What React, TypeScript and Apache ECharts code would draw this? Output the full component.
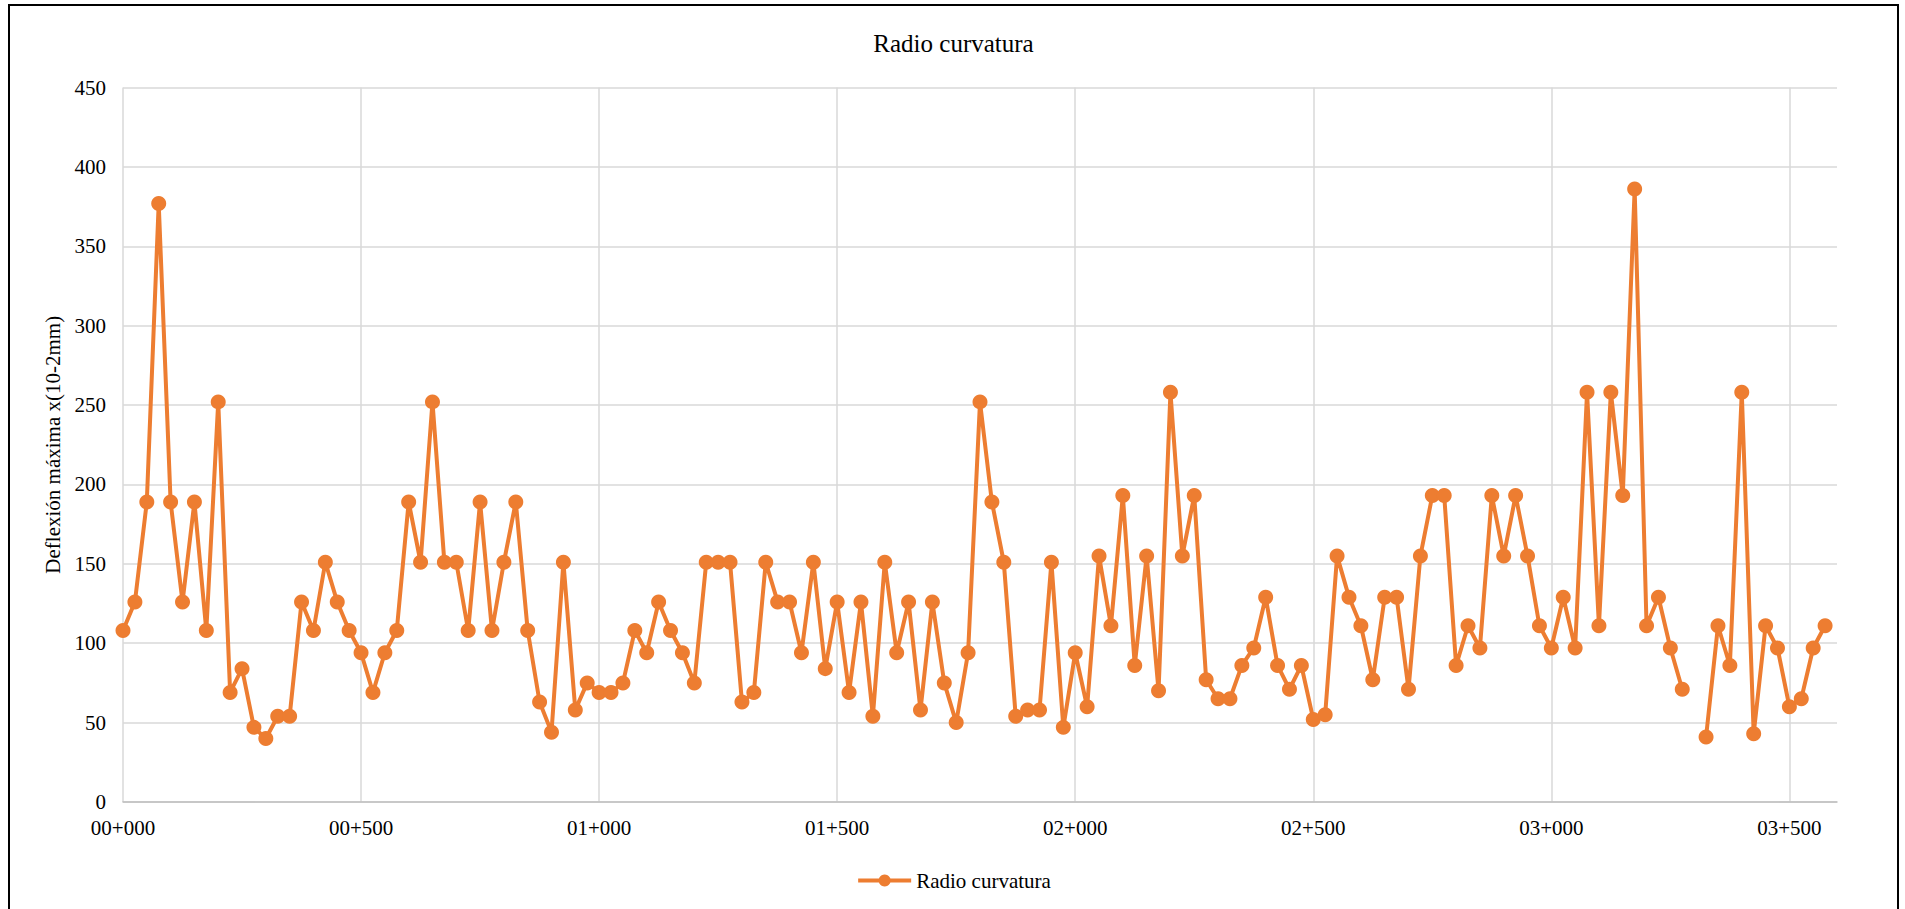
import React, { useEffect, useRef } from "react";
import * as echarts from "echarts";

const TITLE = "Radio curvatura";
const SERIES_NAME = "Radio curvatura";
const Y_AXIS_NAME = "Deflexión máxima x(10-2mm)";

// chainages every 25 m, from 00+000 to 03+600
const STEP_M = 25;
const CHAINAGE_COUNT = 145;
const LABEL_EVERY = 20; // one label every 500 m
const chainages: string[] = Array.from({ length: CHAINAGE_COUNT }, (_, i) => {
  const m = i * STEP_M;
  const km = Math.floor(m / 1000);
  const rest = m % 1000;
  return String(km).padStart(2, "0") + "+" + String(rest).padStart(3, "0");
});

const values: (number | null)[] = [
  108, 126, 189, 377, 189, 126, 189, 108, 252, 69,
  84, 47, 40, 54, 54, 126, 108, 151, 126, 108,
  94, 69, 94, 108, 189, 151, 252, 151, 151, 108,
  189, 108, 151, 189, 108, 63, 44, 151, 58, 75,
  69, 69, 75, 108, 94, 126, 108, 94, 75, 151,
  151, 151, 63, 69, 151, 126, 126, 94, 151, 84,
  126, 69, 126, 54, 151, 94, 126, 58, 126, 75,
  50, 94, 252, 189, 151, 54, 58, 58, 151, 47,
  94, 60, 155, 111, 193, 86, 155, 70, 258, 155,
  193, 77, 65, 65, 86, 97, 129, 86, 71, 86,
  52, 55, 155, 129, 111, 77, 129, 129, 71, 155,
  193, 193, 86, 111, 97, 193, 155, 193, 155, 111,
  97, 129, 97, 258, 111, 258, 193, 386, 111, 129,
  97, 71, null, 41, 111, 86, 258, 43, 111, 97,
  60, 65, 97, 111, null,
];

const Y_MIN = 0;
const Y_MAX = 450;
const Y_STEP = 50;

const ORANGE = "#ED7D31";
const FONT = "'Liberation Serif', 'Times New Roman', serif";

function Chart() {
  const ref = useRef<HTMLDivElement | null>(null);
  useEffect(() => {
    if (!ref.current) return;
    const chart = echarts.init(ref.current, undefined, { renderer: "svg" });
    chart.setOption({
      animation: false,
      backgroundColor: "#ffffff",
      textStyle: { fontFamily: FONT, color: "#000" },
      title: {
        text: TITLE,
        left: "center",
        top: 20,
        textStyle: { fontFamily: FONT, fontSize: 25, fontWeight: "normal", color: "#000" },
      },
      legend: {
        data: [SERIES_NAME],
        left: "center",
        top: 859,
        itemWidth: 53,
        itemHeight: 15,
        itemGap: 10,
        lineStyle: { width: 4, color: ORANGE },
        textStyle: { fontFamily: FONT, fontSize: 21, color: "#000" },
      },
      grid: { left: 113, right: 60, top: 81.5, bottom: 107, containLabel: false },
      xAxis: {
        type: "category",
        data: chainages,
        boundaryGap: false,
        axisLine: { show: true, lineStyle: { color: "#bfbfbf", width: 1.5 } },
        axisTick: { show: false },
        axisLabel: {
          interval: LABEL_EVERY - 1,
          margin: 15,
          fontFamily: FONT,
          fontSize: 21,
          color: "#000",
        },
        splitLine: {
          show: true,
          interval: LABEL_EVERY - 1,
          lineStyle: { color: "#d9d9d9", width: 1.5 },
        },
      },
      yAxis: {
        type: "value",
        min: Y_MIN,
        max: Y_MAX,
        interval: Y_STEP,
        name: Y_AXIS_NAME,
        nameLocation: "middle",
        nameGap: 57,
        nameTextStyle: { fontFamily: FONT, fontSize: 21, color: "#000" },
        axisLine: { show: false },
        axisTick: { show: false },
        axisLabel: { margin: 17, fontFamily: FONT, fontSize: 21, color: "#000" },
        splitLine: { show: true, lineStyle: { color: "#d9d9d9", width: 1.5 } },
      },
      series: [
        {
          name: SERIES_NAME,
          type: "line",
          data: values,
          connectNulls: false,
          symbol: "circle",
          symbolSize: 15,
          showAllSymbol: true,
          lineStyle: { color: ORANGE, width: 4 },
          itemStyle: { color: ORANGE },
          emphasis: { disabled: true },
        },
      ],
    });
    return () => chart.dispose();
  }, []);
  return <div ref={ref} style={{ width: "100%", height: "100%" }} />;
}

export default function App() {
  return (
    <div
      style={{
        position: "absolute",
        left: 8,
        top: 4,
        width: 1891,
        height: 905,
        boxSizing: "border-box",
        borderTop: "2px solid #000",
        borderLeft: "2px solid #000",
        borderRight: "2px solid #000",
        borderBottom: "none",
        background: "#fff",
        overflow: "hidden",
      }}
    >
      <Chart />
    </div>
  );
}
